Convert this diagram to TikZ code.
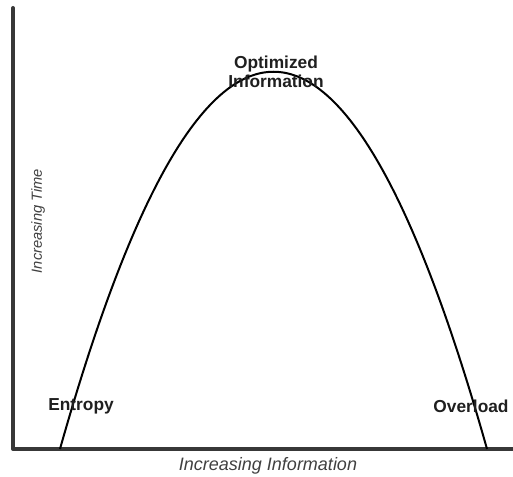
\documentclass[tikz,border=0pt]{standalone}
\usepackage{fontspec}
\setmainfont{Liberation Sans}
\usetikzlibrary{calc}

\begin{document}
\begin{tikzpicture}[x=0.75pt,y=-0.75pt,semithick]
  \tikzstyle{axis line}=[draw=black!78,line width=3pt,line cap=round,line join=round]
  \tikzstyle{curve}=[draw=black,line width=1.5pt]
  \tikzstyle{point text}=[font=\bfseries\fontsize{13}{14.5}\selectfont,text=black!88,inner sep=0pt,align=center]
  \tikzstyle{axis text}=[font=\itshape\fontsize{13.5}{15}\selectfont,text=black!75,inner sep=0pt]

  \useasboundingbox (0,0) rectangle (513,477);

  \coordinate (top)    at (13,8);
  \coordinate (origin) at (13,449);
  \coordinate (right)  at (513,449);
  \coordinate (start)  at (60,449);
  \coordinate (stop)   at (487,449);

  \draw[axis line] (top) -- (origin) -- (right);
  \draw[curve] (start) .. controls (202,-54) and (345,-54) .. (stop);

  \node[point text] (opt)      at (276,72)  {Optimized\\Information};
  \node[point text] (entropy)  at (81,406)  {Entropy};
  \node[point text] (overload) at (471,406) {Overload};

  \node[axis text] (xlabel) at (268,466) {Increasing Information};
  \node[axis text,rotate=90,font=\itshape\fontsize{11}{13}\selectfont] (ylabel) at (38,221) {Increasing Time};
\end{tikzpicture}
\end{document}
